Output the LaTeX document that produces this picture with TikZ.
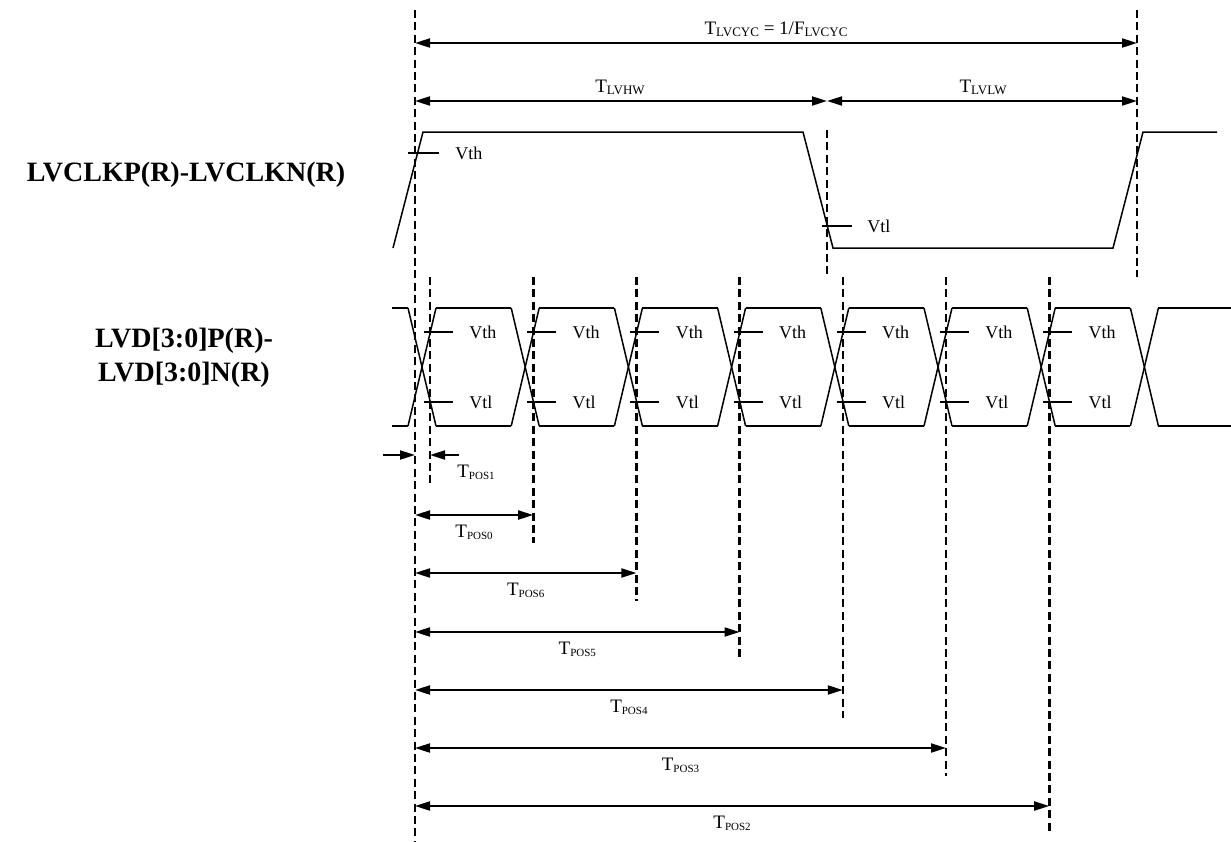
\documentclass[tikz,border=0pt]{standalone}
\usepackage{fontspec}
\setmainfont{Liberation Serif}
\usetikzlibrary{arrows.meta}
\newcommand{\tlab}[2]{T\raisebox{-0.25ex}{\fontsize{#1}{#1}\selectfont #2}}
\begin{document}
\begin{tikzpicture}[x=0.5pt, y=-0.5pt,
    sinal/.style={line width=0.75pt},
    guia/.style={line width=1.3pt, dash pattern=on 4pt off 2.2pt},
    cota/.style={line width=1pt, {Triangle[length=7.5pt,width=4.5pt]}-{Triangle[length=7.5pt,width=4.5pt]}},
    seta/.style={line width=1pt, -{Triangle[length=7.5pt,width=4.5pt]}},
    rotulo/.style={font=\fontsize{9}{10}\selectfont, anchor=west, inner sep=0pt},
    medida/.style={font=\fontsize{9.5}{10}\selectfont, inner sep=0pt},
    nome/.style={font=\bfseries\fontsize{14}{17}\selectfont, align=center, inner sep=0pt},
  ]
  \useasboundingbox (0,0) rectangle (1231,841);

  % nomes dos sinais
  \node[nome] (clk) at (186,175) {LVCLKP(R)-LVCLKN(R)};
  \node[nome] (dados) at (184,358) {LVD[3:0]P(R)-\\LVD[3:0]N(R)};

  % linhas de referencia do relogio
  \coordinate (r0) at (415,10);
  \coordinate (r1) at (415,841);
  \coordinate (m0) at (827,130);
  \coordinate (m1) at (827,277);
  \coordinate (f0) at (1137,10);
  \coordinate (f1) at (1137,277);
  \draw[guia] (r0) -- (r1);
  \draw[guia] (m0) -- (m1);
  \draw[guia] (f0) -- (f1);

  % relogio
  \draw[sinal] (393,248) -- (423,132) -- (803,132) -- (833,248) -- (1113,248)
    -- (1143,132) -- (1217,132);
  \draw[sinal] (408,153) -- (439,153);
  \node[rotulo] (vthc) at (455,153) {Vth};
  \draw[sinal] (822,226) -- (852,226);
  \node[rotulo] (vtlc) at (867,226) {Vtl};

  % periodo e semiperiodos
  \coordinate (p0) at (415,43);
  \coordinate (p1) at (1137,43);
  \coordinate (h0) at (415,101);
  \coordinate (h1) at (827,101);
  \coordinate (h2) at (1137,101);
  \draw[cota] (p0) -- (p1);
  \node[medida] (tcyc) at (776,29) {\tlab{6.5}{LVCYC} = 1/F\raisebox{-0.25ex}{\fontsize{6.5}{6.5}\selectfont LVCYC}};
  \draw[cota] (h0) -- (h1);
  \draw[cota] (h1) -- (h2);
  \node[medida] (thw) at (620,87) {\tlab{6.5}{LVHW}};
  \node[medida] (tlw) at (983,87) {\tlab{6.5}{LVLW}};

  % dados
  \draw[sinal] (392,308) -- (408,308);
  \draw[sinal] (392,426) -- (408,426);
  \foreach \k in {0,...,7} {
    \pgfmathsetmacro{\xa}{408+103.2*\k}
    \pgfmathsetmacro{\xb}{\xa+28}
    \draw[sinal] (\xa,308) -- (\xb,426);
    \draw[sinal] (\xa,426) -- (\xb,308);
  }
  \foreach \k in {0,...,6} {
    \pgfmathsetmacro{\xb}{436+103.2*\k}
    \pgfmathsetmacro{\xc}{\xb+75.2}
    \draw[sinal] (\xb,308) -- (\xc,308);
    \draw[sinal] (\xb,426) -- (\xc,426);
    \pgfmathsetmacro{\xl}{430+103.2*\k}
    \draw[sinal] (\xl-6,332) -- (\xl+23,332);
    \draw[sinal] (\xl-6,402) -- (\xl+23,402);
    \node[rotulo] (vth\k) at (\xl+39,332) {Vth};
    \node[rotulo] (vtl\k) at (\xl+39,402) {Vtl};
  }
  \draw[sinal] (1158,308) -- (1231,308);
  \draw[sinal] (1158,426) -- (1231,426);

  % TPOS1
  \draw[guia] (430,277) -- (430,486);
  \coordinate (s0) at (383,455);
  \coordinate (s1) at (415,455);
  \coordinate (s2) at (459,455);
  \coordinate (s3) at (430,455);
  \draw[seta] (s0) -- (s1);
  \draw[seta] (s2) -- (s3);
  \node[medida] (tpos1) at (476,472) {\tlab{5.5}{POS1}};

  % demais posicoes
  \foreach \n/\x/\y in {0/533.2/515, 6/636.4/573, 5/739.6/632, 4/842.8/690, 3/946/748, 2/1049.2/806} {
    \draw[guia] (\x,277) -- (\x,\y+28);
    \coordinate (a\n) at (415,\y);
    \coordinate (b\n) at (\x,\y);
    \draw[cota] (a\n) -- (b\n);
    \node[medida] (tpos\n) at ({(415+\x)/2},\y+17) {\tlab{5.5}{POS\n}};
  }
\end{tikzpicture}
\end{document}
